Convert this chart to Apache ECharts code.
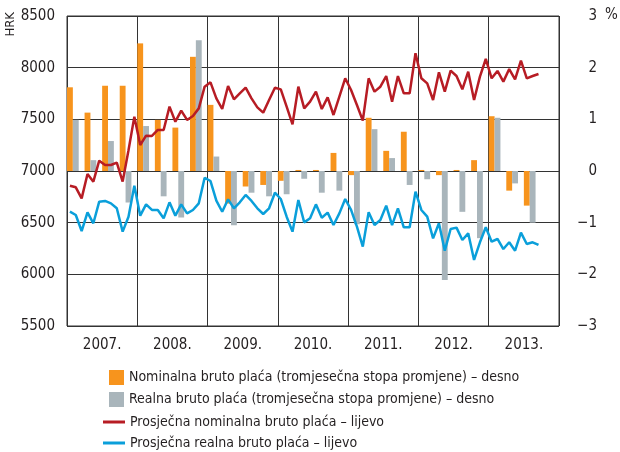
<!DOCTYPE html>
<html>
<head>
<meta charset="utf-8">
<script src="https://cdn.jsdelivr.net/npm/echarts@6/dist/echarts.min.js"></script>
<style>
html, body { margin: 0; padding: 0; background: #fff; }
#main { width: 620px; height: 452px; }
</style>
</head>
<body>
<div id="main"></div>
<script>
// godine na osi x
var years = ['2007.', '2008.', '2009.', '2010.', '2011.', '2012.', '2013.'];

// tromjesečne stope promjene (%), desna os, od 1. tr. 2007.
var nominalRate = [1.62, 1.13, 1.65, 1.65, 2.47, 0.99, 0.84, 2.21, 1.28, -0.63, -0.30, -0.27,
    -0.19, 0.02, 0.02, 0.35, -0.08, 1.03, 0.39, 0.76, 0.02, -0.08, 0.02, 0.21, 1.06, -0.38, -0.67];
var realRate = [0.99, 0.21, 0.58, -0.61, 0.87, -0.49, -0.90, 2.53, 0.28, -1.05, -0.42, -0.49,
    -0.45, -0.15, -0.42, -0.38, -1.03, 0.81, 0.25, -0.27, -0.16, -2.11, -0.79, -1.30, 1.03, -0.24, -1.00];

// mjesečne prosječne plaće (HRK), lijeva os, od 1/2007.
var nominalWage = [6858, 6842, 6735, 6971, 6897, 7100, 7058, 7058, 7081, 6897, 7200, 7526,
    7252, 7342, 7339, 7397, 7397, 7623, 7477, 7584, 7494, 7532, 7606, 7816,
    7858, 7703, 7600, 7823, 7694, 7752, 7806, 7703, 7616, 7565, 7687, 7806,
    7790, 7623, 7452, 7816, 7606, 7671, 7768, 7600, 7713, 7542, 7719, 7897,
    7784, 7639, 7487, 7897, 7768, 7816, 7919, 7671, 7919, 7752, 7752, 8139,
    7897, 7848, 7687, 7955, 7768, 7971, 7919, 7790, 7961, 7687, 7913, 8084,
    7897, 7968, 7865, 7987, 7887, 8068, 7897, 7919, 7939];
var realWage = [6606, 6574, 6419, 6600, 6494, 6703, 6710, 6687, 6639, 6413, 6558, 6858,
    6568, 6677, 6623, 6623, 6542, 6697, 6568, 6677, 6590, 6623, 6687, 6935,
    6903, 6713, 6606, 6726, 6639, 6697, 6768, 6710, 6639, 6584, 6639, 6790,
    6729, 6558, 6413, 6719, 6503, 6542, 6677, 6548, 6597, 6477, 6590, 6729,
    6623, 6461, 6268, 6600, 6477, 6526, 6665, 6477, 6639, 6455, 6455, 6800,
    6623, 6558, 6348, 6494, 6229, 6439, 6452, 6332, 6397, 6139, 6310, 6455,
    6316, 6342, 6245, 6310, 6229, 6403, 6294, 6310, 6284];

var names = [
    'Nominalna bruto plaća (tromjesečna stopa promjene) – desno',
    'Realna bruto plaća (tromjesečna stopa promjene) – desno',
    'Prosječna nominalna bruto plaća – lijevo',
    'Prosječna realna bruto plaća – lijevo'
];

// mjesečne kategorije, stupci sjede na 1. i 2. mjesecu tromjesečja
var months = [];
var nomBars = [];
var realBars = [];
for (var y = 0; y < years.length; y++) {
    for (var m = 1; m <= 12; m++) {
        months.push(years[y] + m);
        nomBars.push('-');
        realBars.push('-');
    }
}
for (var q = 0; q < nominalRate.length; q++) {
    nomBars[q * 3] = nominalRate[q];
    realBars[q * 3 + 1] = realRate[q];
}

var font = "'DejaVu Sans Condensed', 'DejaVu Sans', sans-serif";
var ink = '#231f20';

var myChart = echarts.init(document.getElementById('main'));
myChart.setOption({
    animation: false,
    textStyle: { fontFamily: font, color: ink },
    grid: {
        left: 67, right: 61, top: 16, bottom: 126,
        show: true, borderColor: '#333', borderWidth: 1
    },
    legend: [{
        orient: 'vertical', padding: 0,
        left: 109, top: 370, height: 60,
        itemWidth: 15, itemHeight: 15, itemGap: 7, icon: 'rect',
        textStyle: { fontSize: 14, color: ink, fontFamily: font },
        data: [names[0], names[1]]
    }, {
        orient: 'vertical', padding: 0,
        left: 103, top: 415, height: 60,
        itemWidth: 22, itemHeight: 3, itemGap: 7, icon: 'rect',
        textStyle: { fontSize: 14, color: ink, fontFamily: font },
        data: [names[2], names[3]]
    }],
    graphic: [{
        type: 'text', left: 4, top: 12, rotation: Math.PI / 2,
        style: { text: 'HRK', font: '13px ' + font, fill: ink }
    }, {
        type: 'text', left: 605, top: 8,
        style: { text: '%', font: '15px ' + font, fill: ink }
    }],
    xAxis: [{
        type: 'category', data: months, show: false, boundaryGap: true
    }, {
        type: 'category', data: years, position: 'bottom', offset: 0, boundaryGap: true,
        axisLine: { show: false },
        axisTick: { show: false },
        axisLabel: { fontSize: 15, color: ink, margin: 12, interval: 0 },
        splitLine: { show: true, interval: 0, lineStyle: { color: '#333', width: 1 } }
    }],
    yAxis: [{
        type: 'value', min: 5500, max: 8500, interval: 500,
        axisLine: { show: false }, axisTick: { show: false },
        axisLabel: {
            fontSize: 15, color: ink, margin: 12,
            formatter: function (v) { return String(v); }
        },
        splitLine: { lineStyle: { color: '#333', width: 1 } }
    }, {
        type: 'value', min: -3, max: 3, interval: 1, position: 'right',
        axisLine: { show: false }, axisTick: { show: false },
        axisLabel: {
            fontSize: 15, color: ink, margin: 38, align: 'right',
            formatter: function (v) { return String(v).replace('-', '\u2212'); }
        },
        splitLine: { show: false }
    }],
    series: [{
        name: names[0], type: 'bar', xAxisIndex: 0, yAxisIndex: 1,
        data: nomBars, barGap: '-100%', barCategoryGap: '0%',
        itemStyle: { color: '#f7941d' }
    }, {
        name: names[1], type: 'bar', xAxisIndex: 0, yAxisIndex: 1,
        data: realBars, barGap: '-100%', barCategoryGap: '0%',
        itemStyle: { color: '#a9b5bb' }
    }, {
        name: names[2], type: 'line', xAxisIndex: 0, yAxisIndex: 0,
        data: nominalWage, symbol: 'none', z: 5,
        lineStyle: { color: '#b71c24', width: 2.5 },
        itemStyle: { color: '#b71c24' }
    }, {
        name: names[3], type: 'line', xAxisIndex: 0, yAxisIndex: 0,
        data: realWage, symbol: 'none', z: 5,
        lineStyle: { color: '#0a9fda', width: 2.5 },
        itemStyle: { color: '#0a9fda' }
    }]
});
</script>
</body>
</html>
